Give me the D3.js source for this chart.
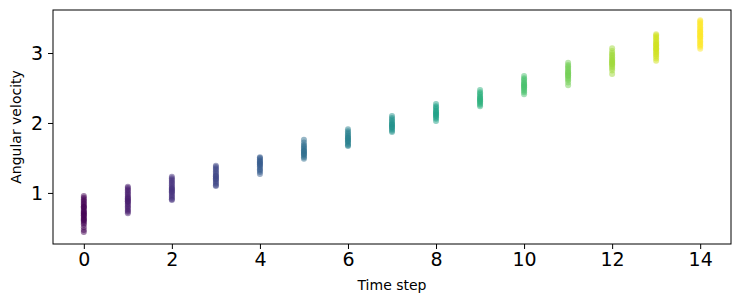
<!DOCTYPE html>
<html>
<head>
<meta charset="utf-8">
<script src="https://cdn.jsdelivr.net/npm/d3@7"></script>
<style>
  body { margin: 0; background: #fff; }
  svg text { font-family: "DejaVu Sans", sans-serif; fill: #000; }
</style>
</head>
<body>
<svg id="chart" width="740" height="302"></svg>
<script>
// time steps and angular velocity samples
const timeSteps = [0, 1, 2, 3, 4, 5, 6, 7, 8, 9, 10, 11, 12, 13, 14];
const velocities = [
  [0.957, 0.93, 0.91, 0.89, 0.87, 0.85, 0.83, 0.81, 0.79, 0.77, 0.75, 0.73, 0.71, 0.69, 0.67, 0.65, 0.63, 0.61, 0.59, 0.57, 0.55, 0.51, 0.47, 0.44, 0.80, 0.72, 0.68, 0.62],
  [1.09, 1.07, 1.05, 1.03, 1.01, 0.99, 0.97, 0.95, 0.93, 0.91, 0.89, 0.87, 0.85, 0.83, 0.81, 0.79, 0.77, 0.75, 0.73, 0.71, 0.92, 0.88],
  [1.23, 1.21, 1.19, 1.17, 1.15, 1.13, 1.11, 1.09, 1.07, 1.05, 1.03, 1.01, 0.99, 0.97, 0.95, 0.93, 0.91, 0.90, 1.06, 1.02],
  [1.39, 1.37, 1.35, 1.33, 1.31, 1.29, 1.27, 1.25, 1.23, 1.21, 1.19, 1.17, 1.15, 1.13, 1.11, 1.10, 1.24, 1.20],
  [1.51, 1.50, 1.48, 1.46, 1.44, 1.42, 1.40, 1.38, 1.36, 1.34, 1.32, 1.30, 1.27, 1.45, 1.41],
  [1.76, 1.72, 1.69, 1.67, 1.65, 1.63, 1.61, 1.59, 1.57, 1.55, 1.53, 1.51, 1.49, 1.60, 1.56],
  [1.91, 1.88, 1.86, 1.84, 1.82, 1.80, 1.78, 1.76, 1.74, 1.72, 1.70, 1.68, 1.67, 1.79, 1.75],
  [2.10, 2.07, 2.05, 2.03, 2.01, 1.99, 1.97, 1.95, 1.93, 1.91, 1.89, 1.87, 1.98, 1.94],
  [2.27, 2.24, 2.22, 2.20, 2.18, 2.16, 2.14, 2.12, 2.10, 2.08, 2.06, 2.03, 2.15, 2.11],
  [2.47, 2.44, 2.42, 2.40, 2.38, 2.36, 2.34, 2.32, 2.30, 2.28, 2.26, 2.24, 2.35, 2.31],
  [2.67, 2.64, 2.62, 2.60, 2.58, 2.56, 2.54, 2.52, 2.50, 2.48, 2.46, 2.44, 2.41, 2.55, 2.51],
  [2.86, 2.83, 2.81, 2.79, 2.77, 2.75, 2.73, 2.71, 2.69, 2.67, 2.65, 2.63, 2.61, 2.58, 2.54, 2.72, 2.68],
  [3.07, 3.03, 3.00, 2.98, 2.96, 2.94, 2.92, 2.90, 2.88, 2.86, 2.84, 2.82, 2.80, 2.78, 2.75, 2.70, 2.89, 2.85],
  [3.27, 3.25, 3.23, 3.21, 3.19, 3.17, 3.15, 3.13, 3.11, 3.09, 3.07, 3.05, 3.03, 3.01, 2.99, 2.97, 2.95, 2.92, 2.89, 3.12, 3.06],
  [3.47, 3.45, 3.43, 3.41, 3.39, 3.37, 3.35, 3.33, 3.31, 3.29, 3.27, 3.25, 3.23, 3.21, 3.19, 3.17, 3.15, 3.13, 3.11, 3.09, 3.06, 3.30, 3.24]
];
const xTicks = [0, 2, 4, 6, 8, 10, 12, 14];
const yTicks = [1, 2, 3];

const svg = d3.select("svg#chart");
const width = +svg.attr("width");
const height = +svg.attr("height");
const margin = { top: 10, right: 9, bottom: 58, left: 53 };
const plotWidth = width - margin.left - margin.right;
const plotHeight = height - margin.top - margin.bottom;

const plot = svg.append("g")
  .attr("transform", "translate(" + margin.left + "," + margin.top + ")");

const xScale = d3.scaleLinear().domain([-0.7, 14.7]).range([0, plotWidth]);
const yScale = d3.scaleLinear().domain([0.27, 3.615]).range([plotHeight, 0]);
const color = d3.scaleSequential(d3.interpolateViridis).domain([0, 14]);

// flatten into points
let points = [];
timeSteps.forEach((t, i) => {
  velocities[i].forEach(v => points.push({ t: t, v: v }));
});

plot.selectAll("circle.pt").data(points)
  .join("circle")
  .attr("class", "pt")
  .attr("cx", d => xScale(d.t))
  .attr("cy", d => yScale(d.v))
  .attr("r", 3)
  .attr("fill", d => color(d.t))
  .attr("fill-opacity", 0.5);

// axes
const xAxis = plot.append("g")
  .attr("transform", "translate(0," + plotHeight + ")")
  .call(d3.axisBottom(xScale).tickValues(xTicks).tickFormat(d3.format("d")).tickSize(5).tickPadding(4));
const yAxis = plot.append("g")
  .call(d3.axisLeft(yScale).tickValues(yTicks).tickFormat(d3.format("d")).tickSize(5).tickPadding(5));

[xAxis, yAxis].forEach(ax => {
  ax.select(".domain").remove();
  ax.selectAll("line").attr("stroke", "#000").attr("stroke-width", 1);
  ax.selectAll("text").style("font-size", "19px").style("font-family", "DejaVu Sans");
});

// frame
plot.append("rect")
  .attr("x", 0).attr("y", 0)
  .attr("width", plotWidth).attr("height", plotHeight)
  .attr("fill", "none")
  .attr("stroke", "#000")
  .attr("stroke-width", 1);

svg.append("text")
  .attr("x", margin.left + plotWidth / 2)
  .attr("y", 290)
  .attr("text-anchor", "middle")
  .style("font-size", "14px")
  .text("Time step");

svg.append("text")
  .attr("transform", "translate(21," + (margin.top + plotHeight / 2) + ") rotate(-90)")
  .attr("text-anchor", "middle")
  .style("font-size", "14px")
  .text("Angular velocity");
</script>
</body>
</html>
